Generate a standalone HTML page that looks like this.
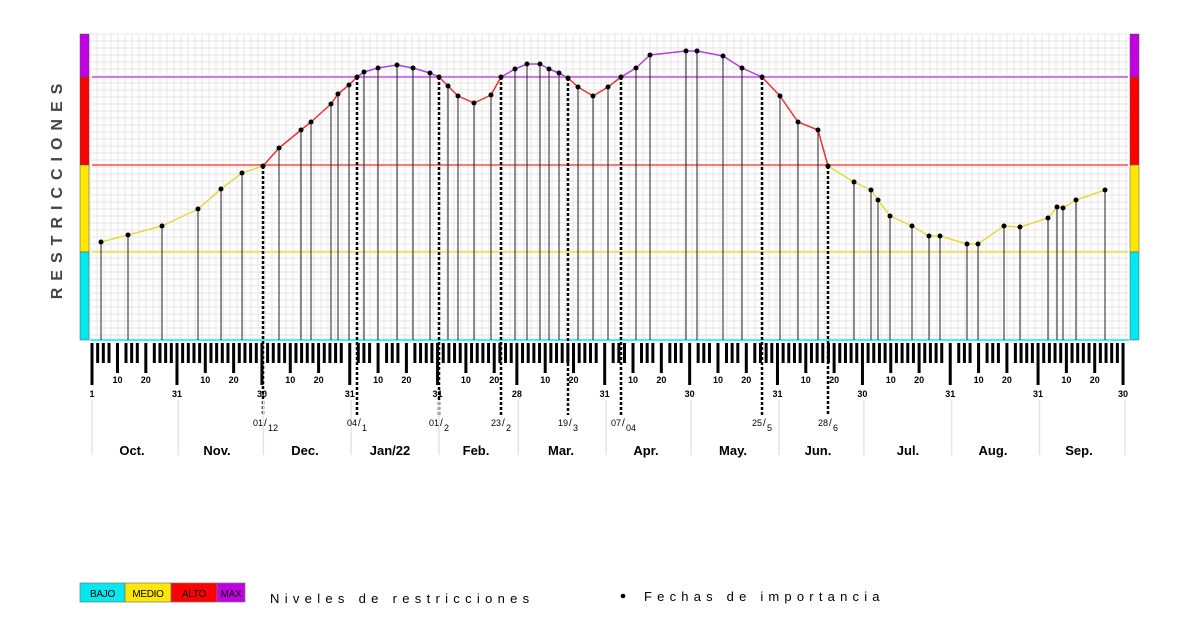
<!DOCTYPE html>
<html><head><meta charset="utf-8"><style>
html,body{margin:0;padding:0;background:#fff;width:1200px;height:640px;overflow:hidden}
text{font-family:"Liberation Sans",sans-serif}
</style></head><body>
<svg id="s" width="1200" height="640" xmlns="http://www.w3.org/2000/svg"></svg>
<script>
const s=document.getElementById('s');let h='';
const X0=92,PD=2.8325;
h+='<rect x="90" y="34" width="1039" height="306" fill="#fff"/>';
for(let x=90;x<=1129;x+=7)h+=`<line x1="${x}" y1="34" x2="${x}" y2="340" stroke="#e6e6e6" stroke-width="1"/>`;
for(let y=34;y<=340;y+=7)h+=`<line x1="90" y1="${y}" x2="1129" y2="${y}" stroke="#e6e6e6" stroke-width="1"/>`;
[[80],[1130]].forEach(([x])=>{
h+=`<rect x="${x}" y="34" width="9" height="43" fill="#c000e0" stroke="#555" stroke-width="0.5"/>`;
h+=`<rect x="${x}" y="77" width="9" height="88" fill="#ff0000" stroke="#555" stroke-width="0.5"/>`;
h+=`<rect x="${x}" y="165" width="9" height="87" fill="#ffe800" stroke="#555" stroke-width="0.5"/>`;
h+=`<rect x="${x}" y="252" width="9" height="88" fill="#00e8f0" stroke="#555" stroke-width="0.5"/>`;});
h+='<line x1="92" y1="77" x2="1128" y2="77" stroke="#c850e8" stroke-width="1.5"/>';
h+='<line x1="92" y1="165" x2="1128" y2="165" stroke="#f05050" stroke-width="1.5"/>';
h+='<line x1="92" y1="252" x2="1128" y2="252" stroke="#f0e040" stroke-width="1.5"/>';
h+='<line x1="90" y1="340" x2="1129" y2="340" stroke="#40f0f8" stroke-width="2"/>';
const P=[[101,242],[128,235],[162,226],[198,209],[221,189],[242,173],[263,166],[279,148],[301,130],[311,122],[331,104],[338,94],[349,85],[357,77],[364,72],[378,68],[397,65],[413,68],[430,73],[439,77],[448,86],[458,96],[474,103],[491,95],[501,77],[515,69],[527,64],[540,64],[549,69],[559,73],[568,78],[578,87],[593,96],[608,87],[621,77],[636,68],[650,55],[686,51],[697,51],[723,56],[742,68],[762,77],[780,96],[798,122],[818,130],[828,166],[854,182],[871,190],[878,200],[890,216],[912,226],[929,236],[940,236],[967,244],[978,244],[1004,226],[1020,227],[1048,218],[1057,207],[1063,208],[1076,200],[1105,190]];
const dash=[263,357,439,501,568,621,762,828];
P.forEach(p=>{if(!dash.includes(p[0]))h+=`<line x1="${p[0]}" y1="${p[1]}" x2="${p[0]}" y2="340" stroke="#222" stroke-width="1"/>`;});
dash.forEach(x=>{const p=P.find(q=>q[0]==x);h+=`<line x1="${x}" y1="${p[1]}" x2="${x}" y2="415" stroke="#000" stroke-width="2.5" stroke-dasharray="3,2"/>`;});
for(let i=1;i<P.length;i++){const a=P[i-1],b=P[i];const m=(a[1]+b[1])/2;const c=m<77?'#b040e0':m<=165.5?'#f03030':'#e8d840';
h+=`<line x1="${a[0]}" y1="${a[1]}" x2="${b[0]}" y2="${b[1]}" stroke="${c}" stroke-width="1.5"/>`;}
P.forEach(p=>h+=`<circle cx="${p[0]}" cy="${p[1]}" r="2.5" fill="#000"/>`);
const months=[["Oct.",31,132],["Nov.",30,217],["Dec.",31,305],["Jan/22",31,390],["Feb.",28,476],["Mar.",31,561],["Apr.",30,646],["May.",31,733],["Jun.",30,818],["Jul.",31,908],["Aug.",31,993],["Sep.",30,1079]];
const special=[0];let dd=0;
months.forEach(([n,len])=>{special.push(dd+9,dd+19,dd+len-1);dd+=len;});
for(let d=0;d<365;d+=2){if(special.some(q=>Math.abs(q-d)<1.5))continue;const x=X0+d*PD;h+=`<rect x="${x-1.5}" y="343" width="3" height="20" fill="#000"/>`;}
let day=0;
h+=`<rect x="${X0-1.5}" y="343" width="3" height="42" fill="#000"/><text x="${X0}" y="397" font-size="9" font-weight="bold" text-anchor="middle">1</text>`;
months.forEach(([n,len,cx],i)=>{
 const st=X0+day*PD;
 [10,20].forEach(k=>{const x=X0+(day+k-1)*PD;h+=`<rect x="${x-1.5}" y="343" width="3" height="30" fill="#000"/><text x="${x}" y="383" font-size="9" font-weight="bold" text-anchor="middle">${k}</text>`;});
 const ex=X0+(day+len-1)*PD;
 h+=`<rect x="${ex-1.5}" y="343" width="3" height="42" fill="#000"/><text x="${ex}" y="397" font-size="9" font-weight="bold" text-anchor="middle">${len}</text>`;
 const sx=i==0?X0:st-PD/2;
 h+=`<line x1="${sx}" y1="400" x2="${sx}" y2="455" stroke="#e4e4e4" stroke-width="1.5"/>`;
 h+=`<text x="${cx}" y="455" font-size="13" font-weight="bold" text-anchor="middle">${n}</text>`;
 day+=len;});
h+=`<line x1="1125" y1="400" x2="1125" y2="455" stroke="#e4e4e4" stroke-width="1.5"/>`;
const dl=[[263,"01","12"],[357,"04","1"],[439,"01","2"],[501,"23","2"],[568,"19","3"],[621,"07","04"],[762,"25","5"],[828,"28","6"]];
dl.forEach(([x,a,b])=>h+=`<text x="${x}" y="426" font-size="9" text-anchor="end">${a}</text><text x="${x+1}" y="426" font-size="10">/</text><text x="${x+5}" y="431" font-size="9">${b}</text>`);
h+=`<text transform="translate(62,188) rotate(-90)" font-size="16" font-weight="bold" fill="#444" text-anchor="middle" letter-spacing="7">RESTRICCIONES</text>`;
const L=[["BAJO","#00e8f0",80,45],["MEDIO","#ffe800",125,46],["ALTO","#ff0000",171,46],["MAX","#c000e0",217,28]];
L.forEach(([t,c,x,w])=>h+=`<rect x="${x}" y="583" width="${w}" height="19" fill="${c}" stroke="#777" stroke-width="0.7"/><text x="${x+w/2}" y="597" font-size="10" text-anchor="middle" letter-spacing="-0.3">${t}</text>`);
h+=`<text x="270" y="603" font-size="13" letter-spacing="5.3">Niveles de restricciones</text>`;
h+=`<circle cx="623" cy="596" r="2.3" fill="#000"/><text x="644" y="601" font-size="13" letter-spacing="5.2">Fechas de importancia</text>`;
s.innerHTML=h;
</script>
</body></html>
